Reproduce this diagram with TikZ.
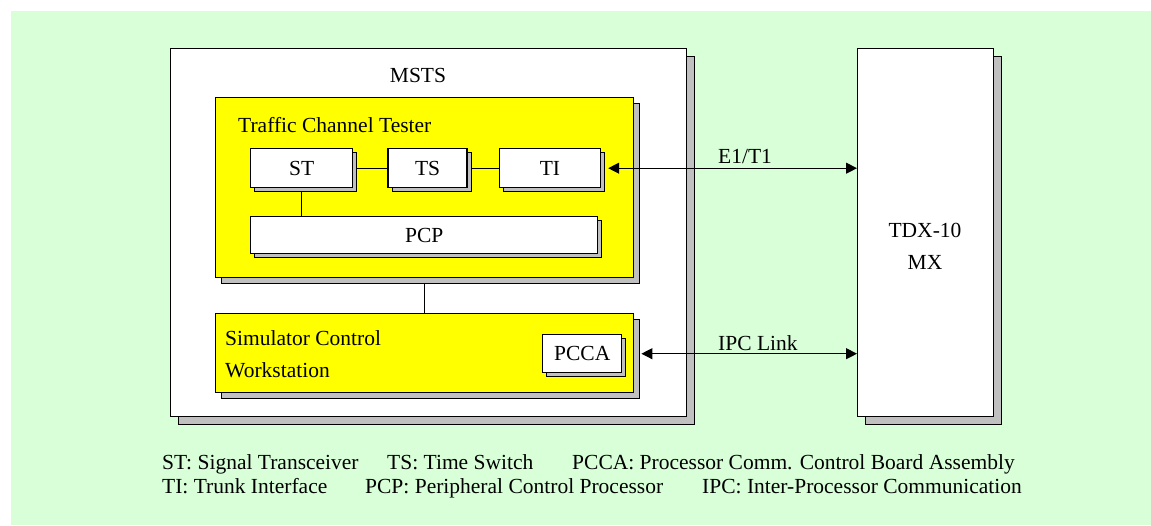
\documentclass[tikz,border=0pt]{standalone}
\usepackage{fontspec}
\setmainfont{Liberation Serif}
\usetikzlibrary{positioning,arrows.meta,shadows}

\definecolor{mintbg}{RGB}{217,255,217}
\definecolor{chipyellow}{RGB}{255,255,0}
\definecolor{shadegray}{RGB}{192,192,192}

\pgfdeclarelayer{bg}
\pgfdeclarelayer{frame}
\pgfdeclarelayer{panel}
\pgfdeclarelayer{links}
\pgfsetlayers{bg,frame,panel,links,main}

\begin{document}
\begin{tikzpicture}[
    x=1pt, y=-1pt,
    every node/.style={font=\fontsize{21.5}{32}\selectfont},
    box/.style={rectangle, draw, line width=1.4pt, fill=white, inner sep=0pt, anchor=north west},
    shade/.style={drop shadow={shadow xshift=#1, shadow yshift=-#1, fill=shadegray,
                  draw=black, line width=0.9pt, opacity=1}},
    unit/.style={box, shade=8pt, minimum height=368pt},
    panel/.style={box, fill=chipyellow, shade=6pt, minimum width=418pt},
    chip/.style={box, shade=4pt, minimum height=39pt},
    link/.style={line width=1.2pt},
    biarrow/.style={link, {Triangle[length=11pt,width=11pt]}-{Triangle[length=11pt,width=11pt]}},
    lbl/.style={inner sep=0pt}
  ]
    \useasboundingbox (0,0) rectangle (1151,525);
    \begin{pgfonlayer}{bg}
      \fill[mintbg] (11,11) rectangle (1151,525);
    \end{pgfonlayer}

    % outer units
    \begin{pgfonlayer}{frame}
      \node[unit, minimum width=516pt] (msts) at (170,48) {};
      \node[unit, minimum width=136pt] (tdx) at (857,48) {};
    \end{pgfonlayer}
    \node[lbl, anchor=base] (mststitle) at (418,82) {MSTS};
    \node[lbl, align=center, anchor=base] (tdxtitle) at (925,269) {TDX-10\\MX};

    % yellow panels
    \begin{pgfonlayer}{panel}
      \node[panel, minimum height=180pt] (tct) at (215,97) {};
      \node[panel, minimum height=79pt] (scw) at (215,313) {};
    \end{pgfonlayer}
    \node[lbl, anchor=base west] (tcttitle) at (238,132) {Traffic Channel Tester};
    \node[lbl, align=left, anchor=base west] (scwtitle) at (225,377) {Simulator Control\\Workstation};

    % boards
    \node[chip, minimum width=102pt] (st) at (250,148) {ST};
    \node[chip, minimum width=79pt, right=34pt of st] (ts) {TS};
    \node[chip, minimum width=101pt, right=31pt of ts] (ti) {TI};
    \node[chip, minimum width=347pt, minimum height=37pt] (pcp) at (250,216) {PCP};
    \node[chip, minimum width=79pt, minimum height=38pt] (pcca) at (542,334) {PCCA};

    \begin{pgfonlayer}{links}
      \foreach \a/\b in {st/ts, ts/ti}
        \draw[link] (\a) -- (\b);
      \draw[link] (st) -- (st |- pcp.north);
      \draw[link, shorten <=6pt] (tct.south) -- (scw.north);
    \end{pgfonlayer}

    \draw[biarrow, shorten <=7pt] (ti.east) -- (ti.east -| tdx.west);
    \draw[biarrow, shorten <=7pt] (pcca.east -| scw.east) -- (pcca.east -| tdx.west);
    \node[lbl, anchor=base west] (e1lbl) at (718,163) {E1/T1};
    \node[lbl, anchor=base west] (ipclbl) at (718,350) {IPC Link};

    % legend
    \node[lbl, anchor=base west] (keyst) at (162,469) {ST: Signal Transceiver};
    \node[lbl, anchor=base west] (keyts) at (387,469) {TS: Time Switch};
    \node[lbl, anchor=base west] (keypcca) at (572,469) {PCCA: Processor Comm. Control Board Assembly};
    \node[lbl, anchor=base west] (keyti) at (162,493) {TI: Trunk Interface};
    \node[lbl, anchor=base west] (keypcp) at (365,493) {PCP: Peripheral Control Processor};
    \node[lbl, anchor=base west] (keyipc) at (702,493) {IPC: Inter-Processor Communication};
\end{tikzpicture}
\end{document}
